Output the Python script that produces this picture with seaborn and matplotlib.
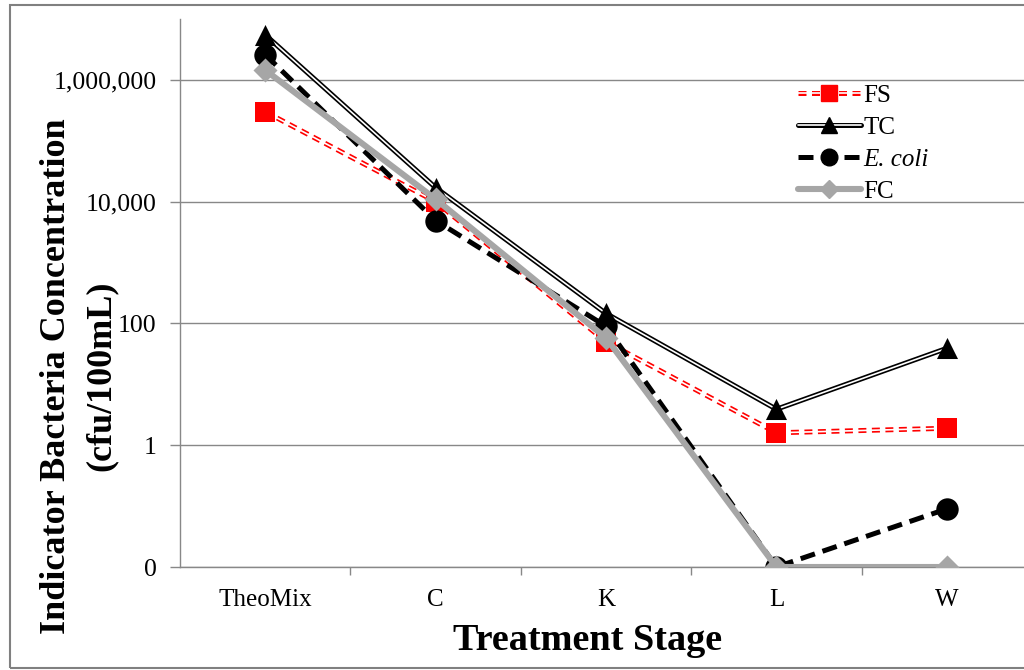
import seaborn as sns
from matplotlib import pyplot as plt
from matplotlib import lines as mlines
from matplotlib import patches as mpatches
import pandas as pd

stages = ["TheoMix", "C", "K", "L", "W"]
fs = [3.0e5, 1.0e4, 50, 1.6, 1.9]
tc = [5.5e6, 1.7e4, 146, 3.9, 39]
ecoli = [2.6e6, 4.9e3, 90, 0.01, 0.09]
fc = [1.45e6, 1.1e4, 58, 0.01, 0.01]

ytick_vals = [0.01, 1, 100, 1e4, 1e6]
ytick_labels = ["0", "1", "100", "10,000", "1,000,000"]

if __name__ == "__main__":
	data = pd.DataFrame({"stage": stages, "FS": fs, "TC": tc, "E. coli": ecoli, "FC": fc})

	sns.set_theme(style="white")
	plt.rcParams["font.family"] = ["Liberation Serif", "DejaVu Serif"]
	plt.rcParams["text.color"] = "black"

	fig = plt.figure(figsize=(10.24, 6.70), dpi=100)
	ax = fig.add_axes([180/1024, 1-567/670, 852/1024, 548/670])

	red = "#FF0000"
	gray = "#A6A6A6"

	# FS - red double dashed line, squares
	sns.lineplot(data, x="stage", y="FS", sort=False, color=red, lw=3.6, linestyle=(0, (1.6, 1.1)), ax=ax, zorder=2)
	sns.lineplot(data, x="stage", y="FS", sort=False, color="white", lw=1.2, ax=ax, zorder=2.1)
	sns.scatterplot(data, x="stage", y="FS", marker="s", s=200, color=red, edgecolor=red, linewidth=0, ax=ax, zorder=2.2)

	# TC - black double line, triangles
	sns.lineplot(data, x="stage", y="TC", sort=False, color="black", lw=3.6, ax=ax, zorder=3)
	sns.lineplot(data, x="stage", y="TC", sort=False, color="white", lw=1.2, ax=ax, zorder=3.1)
	sns.scatterplot(data, x="stage", y="TC", marker="^", s=230, color="black", edgecolor="black", linewidth=0, ax=ax, zorder=3.2)

	# E. coli - black thick dashed, circles
	sns.lineplot(data, x="stage", y="E. coli", sort=False, color="black", lw=3.6, linestyle=(0, (3, 1.6)), ax=ax, zorder=4)
	sns.scatterplot(data, x="stage", y="E. coli", marker="o", s=260, color="black", edgecolor="black", linewidth=0, ax=ax, zorder=4.2)

	# FC - thick gray, diamonds
	sns.lineplot(data, x="stage", y="FC", sort=False, color=gray, lw=4.4, ax=ax, zorder=5)
	sns.scatterplot(data, x="stage", y="FC", marker="D", s=150, color=gray, edgecolor=gray, linewidth=0, ax=ax, zorder=5.2)

	ax.set_yscale("log")
	ax.set_ylim(0.01, 1e7)
	ax.set_xlim(-0.5, 4.5)
	ax.set_yticks(ytick_vals)
	ax.set_yticklabels(ytick_labels)
	ax.minorticks_off()
	ax.set_xticks([0.5, 1.5, 2.5, 3.5], minor=True)
	ax.tick_params(axis="x", which="major", length=0, pad=16, labelsize=18, colors="black")
	ax.tick_params(axis="x", which="minor", length=6, width=1, color="#888888", direction="out", bottom=True)
	ax.tick_params(axis="y", which="major", length=7, width=1, color="#888888", direction="out", left=True, pad=10, labelsize=18.5, labelcolor="black")
	ax.grid(axis="y", color="#888888", lw=1)
	ax.set_axisbelow(True)
	for side in ["top", "right"]:
		ax.spines[side].set_visible(False)
	for side in ["left", "bottom"]:
		ax.spines[side].set_color("#888888")
		ax.spines[side].set_linewidth(1)
	ax.set_xlabel("")
	ax.set_ylabel("")

	fig.text(588/1024, 1-640/670, "Treatment Stage", fontsize=27.5, fontweight="bold", ha="center", va="center", color="black")
	# y label as two lines
	fig.text(57/1024, 1-376/670, "Indicator Bacteria Concentration", fontsize=26, fontweight="bold",
		rotation=90, ha="center", va="center", color="black")
	fig.text(101/1024, 1-376/670, "(cfu/100mL)", fontsize=26, fontweight="bold",
		rotation=90, ha="center", va="center", color="black")

	# legend
	fsH = (mlines.Line2D([], [], color=red, lw=3.6, linestyle=(0, (1.6, 1.1))),
		mlines.Line2D([], [], color="white", lw=1.2),
		mlines.Line2D([], [], color=red, marker="s", ms=11, linestyle="None"))
	tcH = (mlines.Line2D([], [], color="black", lw=3.6),
		mlines.Line2D([], [], color="white", lw=1.2),
		mlines.Line2D([], [], color="black", marker="^", ms=12, linestyle="None"))
	ecH = mlines.Line2D([], [], color="black", lw=3.6, linestyle=(0, (3, 1.6)), marker="o", ms=12)
	fcH = mlines.Line2D([], [], color=gray, lw=4.4, marker="D", ms=9)
	leg = fig.legend(handles=[fsH, tcH, ecH, fcH], labels=["FS", "TC", "E. coli", "FC"],
		loc="upper left", bbox_to_anchor=(798/1024, 1-84/670), frameon=False, fontsize=18,
		handlelength=2.5, handletextpad=0.1, labelspacing=0.38, borderpad=0, borderaxespad=0)
	for t in leg.get_texts():
		t.set_color("black")
	leg.get_texts()[2].set_fontstyle("italic")

	# outer chart border
	fig.patches.append(mpatches.Rectangle((10/1024, 1-668/670), 1020/1024, 663/670, transform=fig.transFigure,
		fill=False, edgecolor="#808080", lw=1.5))

	fig.savefig("out.png", dpi=100)
